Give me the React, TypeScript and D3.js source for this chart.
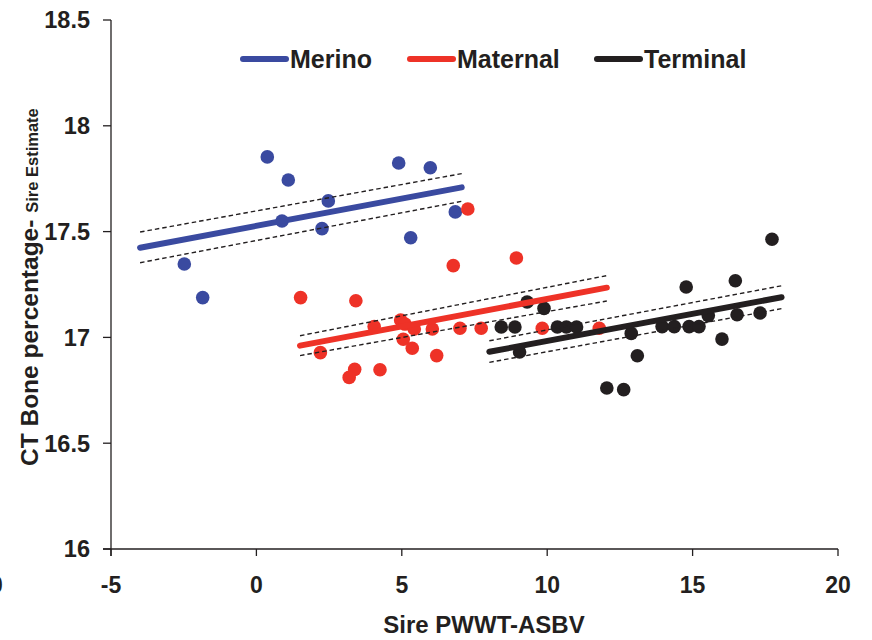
import React from "react";
import * as d3 from "d3";

// Sire PWWT-ASBV (x) vs CT bone percentage sire estimate (y), by sire breed type
const merinoX = [0.375, 1.097, 2.473, 0.88, 2.256, 4.893, 5.98, 6.84, 5.306, -2.479, -1.847];
const merinoY = [17.853, 17.744, 17.645, 17.55, 17.514, 17.824, 17.802, 17.593, 17.471, 17.347, 17.188];

const maternalX = [7.27, 6.77, 8.94, 1.52, 3.42, 4.05, 4.96, 5.11, 5.43, 6.05, 7.0, 7.73, 9.83, 11.79, 5.05, 5.36, 6.2, 2.2, 3.38, 3.19, 4.25];
const maternalY = [17.607, 17.339, 17.375, 17.188, 17.173, 17.051, 17.082, 17.063, 17.04, 17.04, 17.043, 17.043, 17.043, 17.043, 16.991, 16.949, 16.914, 16.928, 16.849, 16.811, 16.847];

const terminalX = [8.42, 8.89, 9.31, 9.89, 9.05, 10.35, 10.66, 11.01, 12.05, 12.63, 12.89, 13.1, 13.95, 14.37, 14.88, 15.22, 14.78, 15.54, 16.01, 16.47, 16.53, 17.32, 17.73];
const terminalY = [17.049, 17.049, 17.167, 17.137, 16.931, 17.049, 17.049, 17.049, 16.761, 16.753, 17.019, 16.913, 17.051, 17.051, 17.051, 17.051, 17.238, 17.103, 16.992, 17.268, 17.107, 17.115, 17.464];

// Fitted regression lines and confidence bands: [x start, x end] with [y start, y end]
const merinoFitX = [-4, 7.06];
const merinoFit = [17.424, 17.709];
const merinoUpper = [17.498, 17.774];
const merinoLower = [17.353, 17.643];

const maternalFitX = [1.5, 12.05];
const maternalFit = [16.961, 17.235];
const maternalUpper = [17.008, 17.292];
const maternalLower = [16.914, 17.172];

const terminalFitX = [8.01, 18.06];
const terminalFit = [16.932, 17.19];
const terminalUpper = [16.984, 17.244];
const terminalLower = [16.882, 17.136];

const xTicks = [-5, 0, 5, 10, 15, 20];
const yTicks = [16, 16.5, 17, 17.5, 18, 18.5];

const seriesNames = ["Merino", "Maternal", "Terminal"];
const seriesColors = ["#3a4aa0", "#ee3227", "#231f20"];

const W = 872;
const H = 640;
const left = 111;
const right = 838;
const top = 20;
const bottom = 549;
const FONT = "'Liberation Sans', Arial, Helvetica, sans-serif";

export default function App() {
  const x = d3.scaleLinear().domain([-5, 20]).range([left, right]);
  const y = d3.scaleLinear().domain([16, 18.5]).range([bottom, top]);

  const series = [
    { name: seriesNames[0], color: seriesColors[0], xs: merinoX, ys: merinoY, fx: merinoFitX, fit: merinoFit, up: merinoUpper, lo: merinoLower },
    { name: seriesNames[1], color: seriesColors[1], xs: maternalX, ys: maternalY, fx: maternalFitX, fit: maternalFit, up: maternalUpper, lo: maternalLower },
    { name: seriesNames[2], color: seriesColors[2], xs: terminalX, ys: terminalY, fx: terminalFitX, fit: terminalFit, up: terminalUpper, lo: terminalLower },
  ];

  const line = d3
    .line<[number, number]>()
    .x((d) => x(d[0]))
    .y((d) => y(d[1]));

  const pairs = (xs: number[], ys: number[]): [number, number][] => xs.map((v, i) => [v, ys[i]]);

  // legend slots: line start x
  const legendLine = [243, 410, 597];
  const legendY = 59;

  return (
    <svg width={W} height={H} style={{ position: "absolute", left: 0, top: 0, background: "#fff" }} fontFamily={FONT}>
      <rect width={W} height={H} fill="#fff" />

      {/* axes */}
      <line x1={left} x2={left} y1={top} y2={bottom + 7} stroke="#231f20" strokeWidth={1.3} />
      <line x1={left - 8} x2={right} y1={bottom} y2={bottom} stroke="#231f20" strokeWidth={1.3} />
      {yTicks.map((t) => (
        <g key={"y" + t}>
          <line x1={left - 8} x2={left} y1={y(t)} y2={y(t)} stroke="#231f20" strokeWidth={1.3} />
          <text x={left - 21} y={y(t)} dy="0.36em" textAnchor="end" fontSize={23.5} fontWeight="bold" fill="#231f20">
            {String(t)}
          </text>
        </g>
      ))}
      {xTicks.map((t) => (
        <g key={"x" + t}>
          <line x1={x(t)} x2={x(t)} y1={bottom} y2={bottom + 7} stroke="#231f20" strokeWidth={1.3} />
          <text x={x(t)} y={593} textAnchor="middle" fontSize={23} fontWeight="bold" fill="#231f20">
            {String(t)}
          </text>
        </g>
      ))}
      <text x={-10} y={593} fontSize={23} fontWeight="bold" fill="#231f20">0</text>

      {/* axis titles */}
      <text x={484} y={633} textAnchor="middle" fontSize={24} fontWeight="bold" fill="#231f20">
        Sire PWWT-ASBV
      </text>
      <text transform="translate(38,466) rotate(-90)" fontWeight="bold" fill="#231f20">
        <tspan fontSize={24.5}>CT Bone percentage- </tspan>
        <tspan fontSize={16.5}>Sire Estimate</tspan>
      </text>

      {/* points */}
      {series.map((s) => (
        <g key={"p" + s.name}>
          {pairs(s.xs, s.ys).map((d, i) => (
            <circle key={i} cx={x(d[0])} cy={y(d[1])} r={6.8} fill={s.color} />
          ))}
        </g>
      ))}

      {/* fitted lines with confidence bands */}
      {series.map((s) => (
        <g key={"f" + s.name}>
          <path d={line(pairs(s.fx, s.up)) || ""} fill="none" stroke="#231f20" strokeWidth={1.4} strokeDasharray="4.5,3" />
          <path d={line(pairs(s.fx, s.lo)) || ""} fill="none" stroke="#231f20" strokeWidth={1.4} strokeDasharray="4.5,3" />
          <path d={line(pairs(s.fx, s.fit)) || ""} fill="none" stroke={s.color} strokeWidth={6} strokeLinecap="round" />
        </g>
      ))}

      {/* legend */}
      {series.map((s, i) => (
        <g key={"l" + s.name}>
          <line x1={legendLine[i]} x2={legendLine[i] + 43} y1={legendY} y2={legendY} stroke={s.color} strokeWidth={6} strokeLinecap="round" />
          <text x={legendLine[i] + 47} y={68} fontSize={25} fontWeight="bold" fill="#231f20">
            {s.name}
          </text>
        </g>
      ))}
    </svg>
  );
}
